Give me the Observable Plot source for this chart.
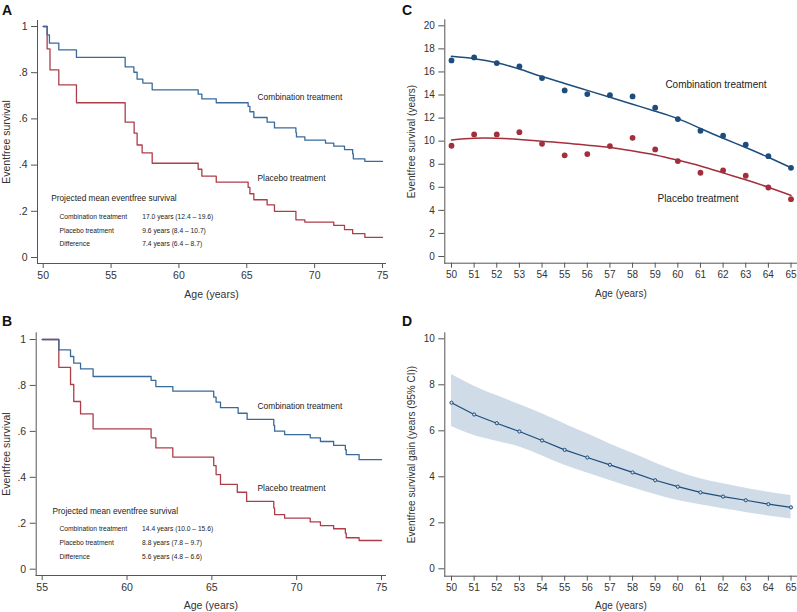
<!DOCTYPE html>
<html>
<head>
<meta charset="utf-8">
<script src="https://cdn.jsdelivr.net/npm/d3@7"></script>
<script src="https://cdn.jsdelivr.net/npm/@observablehq/plot@0.6"></script>
<style>
  html, body { margin: 0; padding: 0; background: #fff; }
  #root { position: relative; width: 797px; height: 612px; overflow: hidden; font-family: "Liberation Sans", Arial, sans-serif; }
  .panel { position: absolute; }
  .letter { position: absolute; font-weight: bold; font-size: 14px; color: #111; font-family: "Liberation Sans", Arial, sans-serif; line-height: 1; }
</style>
</head>
<body>
<div id="root">
  <div class="panel" id="pA" style="left:0;top:0"></div>
  <div class="panel" id="pB" style="left:0;top:305px"></div>
  <div class="panel" id="pC" style="left:400px;top:0"></div>
  <div class="panel" id="pD" style="left:400px;top:305px"></div>
  <div class="letter" style="left:2px;top:3px">A</div>
  <div class="letter" style="left:2px;top:314px">B</div>
  <div class="letter" style="left:402px;top:3px">C</div>
  <div class="letter" style="left:402px;top:314px">D</div>
</div>
<script>
// ---------- Data ----------
// Panel A: Kaplan-Meier style curves (age, survival)
const A_comboAge  = [50, 50.29, 50.46, 51.15, 52.45, 56.04, 56.68, 56.92, 57.34, 58.03, 61.42, 61.69, 62.75, 65.1, 65.23, 65.52, 66.5, 67.04, 68.62, 68.66, 69.28, 70.8, 71.41, 72.2, 72.8, 72.85, 73.7, 75];
const A_comboSurv = [1, 0.964, 0.928, 0.899, 0.866, 0.825, 0.802, 0.772, 0.755, 0.726, 0.707, 0.687, 0.670, 0.654, 0.631, 0.606, 0.586, 0.561, 0.541, 0.522, 0.508, 0.495, 0.482, 0.467, 0.449, 0.427, 0.416, 0.416];
const A_placAge   = [50, 50.29, 50.5, 51.15, 52.45, 56.04, 56.7, 56.92, 57.29, 58.03, 61.42, 61.69, 62.75, 65.1, 65.23, 65.52, 66.5, 67.04, 68.62, 69.28, 71.41, 72.2, 72.8, 73.7, 75];
const A_placSurv  = [1, 0.903, 0.812, 0.747, 0.670, 0.586, 0.538, 0.487, 0.453, 0.408, 0.382, 0.352, 0.326, 0.304, 0.276, 0.250, 0.228, 0.200, 0.163, 0.153, 0.139, 0.121, 0.103, 0.087, 0.087];

// Panel B
const B_comboAge  = [55, 55.98, 56.67, 56.86, 57.26, 58.0, 61.42, 61.7, 62.7, 65.11, 65.25, 65.51, 66.55, 67.08, 68.65, 68.7, 69.29, 70.8, 71.4, 72.18, 72.87, 72.92, 73.68, 75];
const B_comboSurv = [1, 0.955, 0.926, 0.897, 0.872, 0.839, 0.822, 0.795, 0.775, 0.749, 0.727, 0.703, 0.679, 0.652, 0.626, 0.601, 0.586, 0.572, 0.556, 0.539, 0.52, 0.499, 0.477, 0.477];
const B_placAge   = [55, 55.98, 56.67, 56.86, 57.26, 58.0, 61.42, 61.7, 62.7, 65.11, 65.25, 65.51, 66.5, 67.05, 68.65, 68.7, 69.29, 70.8, 71.4, 72.18, 72.87, 72.92, 73.68, 75];
const B_placSurv  = [1, 0.879, 0.804, 0.730, 0.676, 0.611, 0.572, 0.528, 0.488, 0.451, 0.412, 0.369, 0.335, 0.295, 0.266, 0.238, 0.222, 0.206, 0.190, 0.176, 0.157, 0.137, 0.125, 0.125];

// Panel C: projected eventfree survival by age at start
const C_ages       = [50, 51, 52, 53, 54, 55, 56, 57, 58, 59, 60, 61, 62, 63, 64, 65];
const C_comboPts   = [17.0, 17.26, 16.77, 16.48, 15.47, 14.4, 14.08, 13.99, 13.88, 12.9, 11.91, 10.9, 10.47, 9.69, 8.7, 7.69];
const C_placPts    = [9.6, 10.58, 10.58, 10.78, 9.77, 8.77, 8.88, 9.57, 10.29, 9.28, 8.27, 7.26, 7.46, 7.0, 5.98, 4.97];
const C_comboFit   = [17.35, 17.15, 16.8, 16.25, 15.6, 15.0, 14.4, 13.8, 13.2, 12.6, 11.95, 11.1, 10.25, 9.45, 8.6, 7.7];
const C_placFit    = [10.1, 10.25, 10.25, 10.15, 10.0, 9.85, 9.65, 9.45, 9.15, 8.8, 8.35, 7.85, 7.25, 6.65, 6.0, 5.3];

// Panel D: survival gain with 95% CI
const D_ages  = [50, 51, 52, 53, 54, 55, 56, 57, 58, 59, 60, 61, 62, 63, 64, 65];
const D_gain  = [7.22, 6.71, 6.33, 5.97, 5.58, 5.17, 4.84, 4.52, 4.19, 3.85, 3.57, 3.32, 3.14, 2.98, 2.81, 2.67];
const D_lower = [6.19, 5.8, 5.55, 5.3, 4.92, 4.5, 4.16, 3.84, 3.52, 3.23, 2.97, 2.78, 2.61, 2.45, 2.3, 2.17];
const D_upper = [8.45, 7.94, 7.53, 7.14, 6.74, 6.3, 5.87, 5.43, 5.02, 4.6, 4.22, 3.92, 3.7, 3.5, 3.33, 3.19];

// Ticks
const survTicks = [0, 0.2, 0.4, 0.6, 0.8, 1];
const survTickLabels = ["0", ".2", ".4", ".6", ".8", "1"];
const A_xTicks = [50, 55, 60, 65, 70, 75];
const B_xTicks = [55, 60, 65, 70, 75];
const C_yTicks = [0, 2, 4, 6, 8, 10, 12, 14, 16, 18, 20];
const D_yTicks = [0, 2, 4, 6, 8, 10];
const CD_xTicks = [50, 51, 52, 53, 54, 55, 56, 57, 58, 59, 60, 61, 62, 63, 64, 65];

// Annotation text
const seriesNames = ["Combination treatment", "Placebo treatment"];
const tableTitle = "Projected mean eventfree survival";
const tableLabels = ["Combination treatment", "Placebo treatment", "Difference"];
const A_tableValues = ["17.0 years (12.4 – 19.6)", "9.6 years (8.4 – 10.7)", "7.4 years (6.4 – 8.7)"];
const B_tableValues = ["14.4 years (10.0 – 15.6)", "8.8 years (7.8 – 9.7)", "5.6 years (4.8 – 6.6)"];

// ---------- Styling ----------
const BLUE_KM = "#3a6a9a";
const RED_KM = "#ad3d49";
const BLUE = "#1d4d7c";
const RED = "#a22f3b";
const AXIS = "#555";
const TXT = "#333";
const FONT = "'Liberation Sans', Arial, sans-serif";

const zip = (xs, ys) => xs.map((x, i) => ({x, y: ys[i]}));

function axes(o) {
  return [
    Plot.frame({anchor: "left", stroke: AXIS, strokeWidth: 1}),
    Plot.frame({anchor: "bottom", stroke: AXIS, strokeWidth: 1}),
    Plot.axisX(o.xTicks, {tickSize: 5, tickPadding: 3, fontSize: o.tickFont, fill: TXT, stroke: AXIS,
      tickFormat: d => String(d), label: "Age (years)", labelAnchor: "center", labelArrow: "none", labelOffset: o.xLabelOffset}),
    Plot.axisY(o.yTicks, {tickSize: 6, tickPadding: 4, fontSize: o.tickFont, fill: TXT, stroke: AXIS,
      tickFormat: o.yFormat, label: o.yLabel, labelAnchor: "center", labelArrow: "none", labelOffset: o.yLabelOffset})
  ];
}

function kmPanel(cfg) {
  const fmt = d => survTickLabels[survTicks.indexOf(d)];
  const marks = [
    ...axes({xTicks: cfg.xTicks, yTicks: survTicks, yFormat: fmt, tickFont: 10.5, yLabel: "Eventfree survival",
      xLabelOffset: cfg.xLabelOffset, yLabelOffset: cfg.yLabelOffset}),
    Plot.line(zip(cfg.placAge, cfg.placSurv), {x: "x", y: "y", curve: "step-after", stroke: RED_KM, strokeWidth: 1.3}),
    Plot.line(zip(cfg.comboAge, cfg.comboSurv), {x: "x", y: "y", curve: "step-after", stroke: BLUE_KM, strokeWidth: 1.3}),
    Plot.text([seriesNames[0]], {x: cfg.lab.x, y: cfg.lab.y0, text: d => d, textAnchor: "start", fontSize: 8.4, fill: "#222"}),
    Plot.text([seriesNames[1]], {x: cfg.lab.x, y: cfg.lab.y1, text: d => d, textAnchor: "start", fontSize: 8.4, fill: "#222"}),
    Plot.text([tableTitle], {x: cfg.tab.xt, y: cfg.tab.yt, text: d => d, textAnchor: "start", fontSize: 8.3, fill: "#222"}),
    Plot.text(tableLabels, {x: cfg.tab.x0, y: (d, i) => cfg.tab.rows[i], text: d => d, textAnchor: "start", fontSize: 6.7, fill: "#222"}),
    Plot.text(cfg.values, {x: cfg.tab.x1, y: (d, i) => cfg.tab.rows[i], text: d => d, textAnchor: "start", fontSize: 6.7, fill: "#222"})
  ];
  return Plot.plot({
    width: 400, height: cfg.height,
    marginLeft: cfg.mL, marginTop: cfg.mT, marginRight: cfg.mR, marginBottom: cfg.mB,
    style: {fontFamily: FONT, background: "transparent", overflow: "visible"},
    x: {domain: cfg.xDomain, insetLeft: cfg.iL, insetRight: cfg.iR},
    y: {domain: [0, 1], insetTop: cfg.iT, insetBottom: cfg.iB},
    marks
  });
}

const plotA = kmPanel({
  height: 305, mL: 37, mT: 20, mR: 15, mB: 42, iL: 5.7, iR: 3, iT: 6, iB: 6,
  xDomain: [50, 75], xTicks: A_xTicks, xLabelOffset: 34, yLabelOffset: 35,
  comboAge: A_comboAge, comboSurv: A_comboSurv, placAge: A_placAge, placSurv: A_placSurv,
  lab: {x: 65.79, y0: 0.693, y1: 0.342},
  tab: {xt: 50.59, yt: 0.255, x0: 51.2, x1: 57.3, rows: [0.177, 0.117, 0.058]},
  values: A_tableValues
});
document.getElementById("pA").appendChild(plotA);

const plotB = kmPanel({
  height: 307, mL: 35.7, mT: 27.3, mR: 15, mB: 37, iL: 6, iR: 4, iT: 6.7, iB: 6.3,
  xDomain: [55, 75], xTicks: B_xTicks, xLabelOffset: 33, yLabelOffset: 34,
  comboAge: B_comboAge, comboSurv: B_comboSurv, placAge: B_placAge, placSurv: B_placSurv,
  lab: {x: 67.69, y0: 0.710, y1: 0.353},
  tab: {xt: 55.61, yt: 0.2525, x0: 56.02, x1: 60.89, rows: [0.174, 0.115, 0.055]},
  values: B_tableValues
});
document.getElementById("pB").appendChild(plotB);

const plotC = Plot.plot({
  width: 397, height: 305,
  marginLeft: 44.3, marginTop: 19.3, marginRight: 0.5, marginBottom: 42.3,
  style: {fontFamily: FONT, background: "transparent", overflow: "visible"},
  x: {domain: [50, 65], insetLeft: 6.7, insetRight: 6},
  y: {domain: [0, 20], insetTop: 6, insetBottom: 6.7},
  marks: [
    ...axes({xTicks: CD_xTicks, yTicks: C_yTicks, yFormat: d => String(d), tickFont: 10, yLabel: "Eventfree survival (years)",
      xLabelOffset: 34, yLabelOffset: 37}),
    Plot.line(zip(C_ages, C_placFit), {x: "x", y: "y", curve: "natural", stroke: RED, strokeWidth: 1.5}),
    Plot.line(zip(C_ages, C_comboFit), {x: "x", y: "y", curve: "natural", stroke: BLUE, strokeWidth: 1.5}),
    Plot.dot(zip(C_ages, C_placPts), {x: "x", y: "y", r: 2.9, fill: RED, stroke: null}),
    Plot.dot(zip(C_ages, C_comboPts), {x: "x", y: "y", r: 2.9, fill: BLUE, stroke: null}),
    Plot.text([seriesNames[0]], {x: 59.45, y: 14.92, text: d => d, textAnchor: "start", fontSize: 10, fill: "#222"}),
    Plot.text([seriesNames[1]], {x: 59.1, y: 5.03, text: d => d, textAnchor: "start", fontSize: 10, fill: "#222"})
  ]
});
document.getElementById("pC").appendChild(plotC);

const plotD = Plot.plot({
  width: 397, height: 307,
  marginLeft: 44.3, marginTop: 27.3, marginRight: 0.5, marginBottom: 36.3,
  style: {fontFamily: FONT, background: "transparent", overflow: "visible"},
  x: {domain: [50, 65], insetLeft: 6.7, insetRight: 6},
  y: {domain: [0, 10], insetTop: 6, insetBottom: 7.4},
  marks: [
    Plot.areaY(D_ages.map((a, i) => ({x: a, lo: D_lower[i], hi: D_upper[i]})), {x: "x", y1: "lo", y2: "hi", curve: "monotone-x", fill: "#cfdbe7"}),
    ...axes({xTicks: CD_xTicks, yTicks: D_yTicks, yFormat: d => String(d), tickFont: 10, yLabel: "Eventfree survival gain (years (95% CI))",
      xLabelOffset: 32.5, yLabelOffset: 37}),
    Plot.line(zip(D_ages, D_gain), {x: "x", y: "y", stroke: BLUE, strokeWidth: 1.2}),
    Plot.dot(zip(D_ages, D_gain), {x: "x", y: "y", r: 1.6, fill: "#cfdbe7", stroke: BLUE, strokeWidth: 1})
  ]
});
document.getElementById("pD").appendChild(plotD);
</script>
</body>
</html>
